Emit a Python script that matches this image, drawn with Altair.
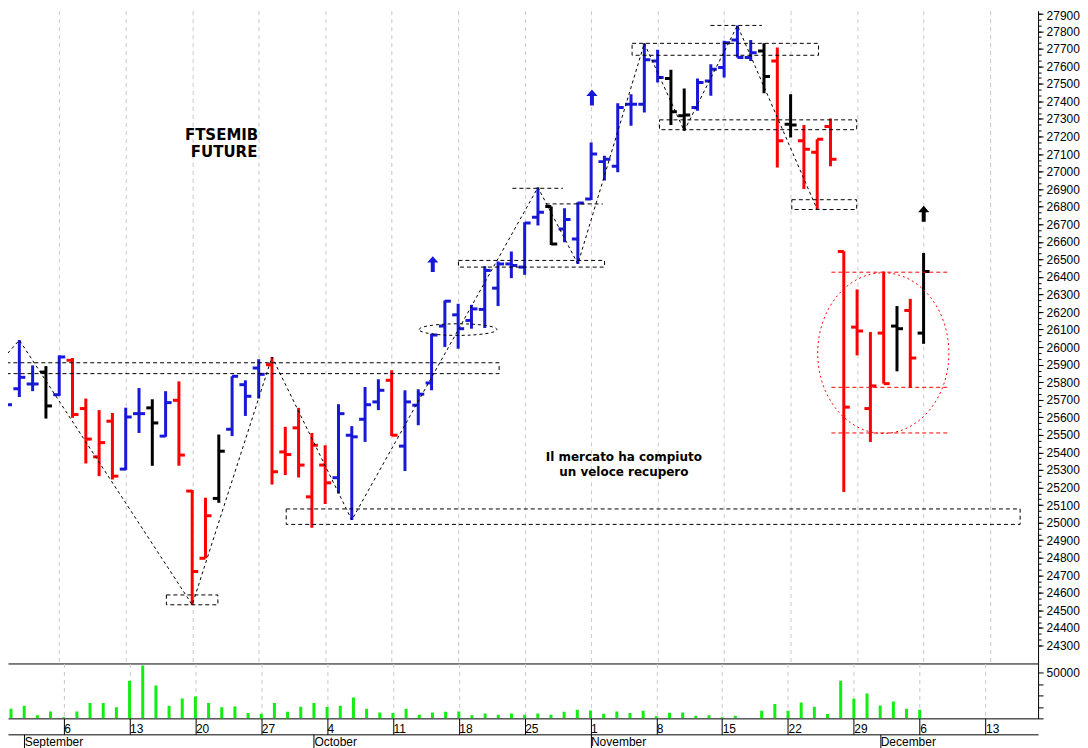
import altair as alt
import pandas as pd

# ---------------- data ----------------
dates = pd.bdate_range("2021-08-31", "2021-12-06").strftime("%Y-%m-%d").tolist()

opens = [25707, 25763, 25790, 25858, 25729, 25925, 25650, 25375, 25578, 25305,
         25621, 25654, 25493, 25697, 25180, 24797, 25138, 25532, 25786, 25881,
         25900, 25403, 25540, 25147, 25328, 25256, 25498, 25589, 25688, 25811,
         25436, 25669, 25796, 26120, 26184, 26152, 26215, 26336, 26474, 26456,
         26740, 26802, 26673, 26616, 26844, 27057, 27030, 27384, 27384, 27631,
         27530, 27318, 27365, 27517, 27593, 27750, 27650, 27688, 27631, 27270,
         27176, 27110, 27257, 26545, 26114, 25650, 26080, 26120, 26209, 26080]
highs = [25840, 26040, 25896, 25892, 25953, 25938, 25707, 25641, 25625, 25655,
         25767, 25703, 25749, 25805, 25186, 25142, 25502, 25834, 25811, 25931,
         25944, 25546, 25654, 25511, 25441, 25675, 25550, 25773, 25817, 25868,
         25754, 25760, 26076, 26266, 26247, 26241, 26461, 26488, 26545, 26711,
         26910, 26802, 26791, 26825, 27166, 27091, 27390, 27441, 27731, 27694,
         27580, 27473, 27530, 27612, 27745, 27833, 27750, 27731, 27707, 27441,
         27265, 27185, 27303, 26546, 26329, 26086, 26431, 26234, 26275, 26537]
lows = [25521, 25716, 25749, 25593, 25722, 25597, 25337, 25265, 25246, 25299,
        25511, 25324, 25489, 25324, 24532, 24797, 25113, 25493, 25608, 25707,
        25217, 25271, 25257, 24971, 25106, 25166, 25015, 25460, 25641, 25494,
        25294, 25555, 25754, 26001, 25991, 26105, 26109, 26234, 26393, 26412,
        26693, 26582, 26598, 26474, 26839, 26949, 26996, 27261, 27337, 27508,
        27265, 27233, 27347, 27432, 27536, 27650, 27631, 27447, 27024, 27195,
        26901, 26784, 27030, 25175, 25953, 25460, 25792, 25862, 25767, 26019]
closes = [25672, 25828, 25790, 25665, 25944, 25616, 25476, 25456, 25265, 25602,
          25621, 25568, 25684, 25385, 24721, 25039, 25407, 25834, 25720, 25845,
          25290, 25388, 25328, 25441, 25227, 25621, 25489, 25672, 25754, 25498,
          25688, 25732, 26069, 26262, 26105, 26218, 26437, 26474, 26465, 26707,
          26768, 26588, 26727, 26821, 27100, 27071, 27365, 27384, 27638, 27536,
          27341, 27322, 27508, 27583, 27735, 27650, 27678, 27542, 27176, 27265,
          27128, 27185, 27071, 25658, 26092, 25779, 25792, 26105, 25938, 26431]
colors = ["blue", "blue", "blue", "black", "blue", "red", "red", "red", "red", "blue",
          "blue", "black", "blue", "red", "red", "red", "black", "blue", "blue", "blue",
          "red", "red", "red", "red", "red", "blue", "blue", "blue", "blue", "red",
          "blue", "blue", "blue", "blue", "blue", "blue", "blue", "blue", "blue", "blue",
          "blue", "black", "blue", "blue", "blue", "blue", "blue", "blue", "blue", "blue",
          "black", "black", "blue", "blue", "blue", "blue", "blue", "black", "red", "black",
          "red", "red", "red", "red", "red", "red", "red", "black", "red", "black"]
volumes = [10500, 13800, 3300, 7600, 1100, 7600, 16600, 16600, 12000, 41000,
           57600, 35900, 13800, 21700, 23900, 16600, 12000, 13000, 5800, 5100,
           16600, 7200, 12600, 16700, 12300, 13800, 22800, 10500, 6500, 5800,
           10500, 4000, 6500, 7200, 7600, 3300, 5400, 4000, 5400, 4000,
           5400, 4000, 7200, 9400, 8700, 5100, 7600, 5800, 8300, 2200,
           6200, 6500, 2900, 3300, 1100, 2900, 400, 8300, 15600, 8300,
           17400, 12700, 4700, 41000, 21400, 27200, 14100, 18500, 10500, 9400]

week_dates = ["2021-09-06", "2021-09-13", "2021-09-20", "2021-09-27", "2021-10-04",
              "2021-10-11", "2021-10-18", "2021-10-25", "2021-11-01", "2021-11-08",
              "2021-11-15", "2021-11-22", "2021-11-29", "2021-12-06", "2021-12-13"]
week_labels = ["6", "13", "20", "27", "4", "11", "18", "25", "1", "8", "15", "22", "29", "6", "13"]
month_dates = ["2021-09-01", "2021-10-01", "2021-11-01", "2021-12-01"]
month_labels = ["September", "October", "November", "December"]
price_ticks = list(range(24300, 27901, 100))
price_minor = [24300 + 100 * k / 3 for k in range(0, 3 * 36 + 2)]
vol_ticks = [0, 12500, 25000, 37500, 50000]

# annotation levels (trading-day units / price)
box_t0 = [0.5, 22.07, 13.06, 35.02, 48.08, 50.14, 60.09]
box_t1 = [38.08, 77.26, 16.93, 46.01, 62.10, 64.97, 64.97]
box_lo = [25849, 24990, 24532, 26456, 27663, 27239, 26784]
box_hi = [25911, 25078, 24588, 26494, 27731, 27295, 26840]
lvl_t0 = [39.08, 41.58, 53.97]
lvl_t1 = [42.88, 45.88, 57.84]
lvl_p = [26905, 26816, 27833]
red_t0 = [63.07, 63.07, 63.07]
red_t1 = [71.85, 71.85, 71.85]
red_p = [26427, 25771, 25511]
zig_t = [0.55, 2, 15, 21, 27, 41, 44, 49, 52, 56, 62]
zig_p = [25915, 26040, 24532, 25944, 25015, 26910, 26474, 27731, 27233, 27833, 26784]
arrow_t = [33.09, 45.06, 70.01]
arrow_p = [26473, 27422, 26760]
arrow_c = ["blue", "blue", "black"]
title_lines = ["FTSEMIB", "FUTURE"]
title_t = [17.21, 17.40]
title_p = [27206, 27112]
note_lines = ["Il mercato ha compiuto", "un veloce recupero"]
note_t = [47.46, 47.46]
note_p = [25375, 25286]
ell_black = [34.99, 26100]
ell_red = [66.97, 25966]

# ---------------- frames ----------------
cal = pd.bdate_range("2021-08-30", "2021-12-31")
tpos = {d.strftime("%Y-%m-%d"): i for i, d in enumerate(cal)}

bars = pd.DataFrame(dict(date=dates, open=opens, high=highs, low=lows,
                         close=closes, col=colors, vol=volumes))
bars["t"] = bars["date"].map(tpos)
week_vals = [tpos[d] for d in week_dates]
month_vals = [tpos[d] for d in month_dates]

boxes = pd.DataFrame(dict(t0=box_t0, t1=box_t1, lo=box_lo, hi=box_hi))
lvls = pd.DataFrame(dict(t0=lvl_t0, t1=lvl_t1, p=lvl_p))
reds = pd.DataFrame(dict(t0=red_t0, t1=red_t1, p=red_p))
zig = pd.DataFrame(dict(t=zig_t, p=zig_p))
arrows = pd.DataFrame(dict(t=arrow_t, p=arrow_p, col=arrow_c))
titles = pd.DataFrame(dict(t=title_t, p=title_p, txt=title_lines))
notes = pd.DataFrame(dict(t=note_t, p=note_p, txt=note_lines))
ellb = pd.DataFrame(dict(t=[ell_black[0]], p=[ell_black[1]]))
ellr = pd.DataFrame(dict(t=[ell_red[0]], p=[ell_red[1]]))
months = pd.DataFrame(dict(t=month_vals))


def chain(vals, labels):
    s = "''"
    for v, l in reversed(list(zip(vals, labels))):
        s = f"datum.value == {v} ? '{l}' : ({s})"
    return s


FONT = "Liberation Sans"
xs = alt.Scale(domain=[1.148, 78.61], nice=False, zero=False)
ys = alt.Scale(domain=[24197.6, 27917.0], nice=False, zero=False)
vs = alt.Scale(domain=[0, 59783], nice=False, zero=False)
cs = alt.Scale(domain=["blue", "red", "black"], range=["#1818d8", "#ff0000", "#000000"])
GRID = dict(grid=True, gridColor="#c8c8c8", gridDash=[4, 4], gridWidth=1)
LBL = dict(labelFont=FONT, labelFontSize=12, labelColor="black", labelOverlap=False)

x_price_axis = alt.Axis(values=week_vals, ticks=False, labels=False, domain=True,
                        domainColor="black", domainWidth=1, title=None, orient="bottom", **GRID)
y_price_axis = alt.Axis(orient="right", values=price_ticks, format="d",
                        tickSize=5, tickColor="black", domainColor="black",
                        labelPadding=3, labelFlush=5, labelFlushOffset=3,
                        grid=False, title=None, **LBL)
y_minor_axis = alt.Axis(orient="right", values=price_minor, labels=False, domain=False,
                        tickSize=3, tickColor="black", grid=False, title=None)
x_vol_axis = alt.Axis(values=week_vals, orient="bottom", ticks=True, tickSize=16,
                      tickColor="black", labelExpr=chain(week_vals, week_labels),
                      labelAlign="left", labelBaseline="alphabetic", labelPadding=-2,
                      labelOffset=0, labelFlush=False, domain=True, domainColor="black",
                      title=None, **GRID, **LBL)
month_axis = alt.Axis(values=month_vals, orient="bottom", offset=16, ticks=True, tickSize=14,
                      tickColor="black", labelExpr=chain(month_vals, month_labels),
                      labelAlign="left", labelBaseline="alphabetic", labelPadding=-3,
                      labelOffset=0, labelFlush=False, domain=True, domainColor="black",
                      grid=False, title=None, **LBL)
y_vol_axis = alt.Axis(orient="right", values=vol_ticks,
                      labelExpr="datum.value == 50000 ? '50000' : ''", tickSize=5,
                      tickColor="black", domainColor="black", labelPadding=3, grid=False,
                      title=None, **LBL)

W = 1032
base = alt.Chart(bars)

hl = base.mark_rule(strokeWidth=3, clip=True).encode(
    x=alt.X("t:Q", scale=xs, axis=x_price_axis),
    y=alt.Y("low:Q", scale=ys, axis=y_price_axis),
    y2="high:Q",
    color=alt.Color("col:N", scale=cs, legend=None),
)
op = base.mark_rule(strokeWidth=3, x2Offset=-6, clip=True).encode(
    x=alt.X("t:Q", scale=xs, axis=None), x2="t:Q",
    y=alt.Y("open:Q", scale=ys, axis=y_minor_axis),
    color=alt.Color("col:N", scale=cs, legend=None),
)
cl = base.mark_rule(strokeWidth=3, x2Offset=6, clip=True).encode(
    x=alt.X("t:Q", scale=xs, axis=None), x2="t:Q",
    y=alt.Y("close:Q", scale=ys, axis=None),
    color=alt.Color("col:N", scale=cs, legend=None),
)
zz = alt.Chart(zig).mark_line(color="black", strokeWidth=1, strokeDash=[3, 3], clip=True).encode(
    x=alt.X("t:Q", scale=xs, axis=None), y=alt.Y("p:Q", scale=ys, axis=None), order="t:Q")
bx = alt.Chart(boxes).mark_rect(fillOpacity=0, stroke="black", strokeWidth=1,
                                strokeDash=[4, 3], clip=True).encode(
    x=alt.X("t0:Q", scale=xs, axis=None), x2="t1:Q",
    y=alt.Y("lo:Q", scale=ys, axis=None), y2="hi:Q")
lv = alt.Chart(lvls).mark_rule(color="black", strokeWidth=1, strokeDash=[4, 3], clip=True).encode(
    x=alt.X("t0:Q", scale=xs, axis=None), x2="t1:Q", y=alt.Y("p:Q", scale=ys, axis=None))
rl = alt.Chart(reds).mark_rule(color="#ff0000", strokeWidth=1, strokeDash=[4, 3], clip=True).encode(
    x=alt.X("t0:Q", scale=xs, axis=None), x2="t1:Q", y=alt.Y("p:Q", scale=ys, axis=None))

ELL_B = "M-1,0 A1,0.149 0 1,1 1,0 A1,0.149 0 1,1 -1,0 Z"
ELL_R = "M-1,0 A1,1.225 0 1,1 1,0 A1,1.225 0 1,1 -1,0 Z"
eb = alt.Chart(ellb).mark_point(shape=ELL_B, size=6084, filled=False, color="black",
                                strokeWidth=1, strokeDash=[3, 3], opacity=1, clip=True).encode(
    x=alt.X("t:Q", scale=xs, axis=None), y=alt.Y("p:Q", scale=ys, axis=None))
er = alt.Chart(ellr).mark_point(shape=ELL_R, size=17266, filled=False, color="#ff0000",
                                strokeWidth=1, strokeDash=[2, 3], opacity=1, clip=True).encode(
    x=alt.X("t:Q", scale=xs, axis=None), y=alt.Y("p:Q", scale=ys, axis=None))

ARROW = "M0,-1 L0.7,-0.2 L0.25,-0.2 L0.25,1 L-0.25,1 L-0.25,-0.2 L-0.7,-0.2 Z"
ar = alt.Chart(arrows).mark_point(shape=ARROW, size=256, filled=True, opacity=1,
                                  strokeWidth=0, clip=True).encode(
    x=alt.X("t:Q", scale=xs, axis=None), y=alt.Y("p:Q", scale=ys, axis=None),
    color=alt.Color("col:N", scale=cs, legend=None))

tt = alt.Chart(titles).mark_text(font="DejaVu Sans", fontWeight="bold", fontSize=15,
                                 color="black").encode(
    x=alt.X("t:Q", scale=xs, axis=None), y=alt.Y("p:Q", scale=ys, axis=None), text="txt:N")
nt = alt.Chart(notes).mark_text(font="DejaVu Sans", fontWeight="bold", fontSize=12,
                                color="black").encode(
    x=alt.X("t:Q", scale=xs, axis=None), y=alt.Y("p:Q", scale=ys, axis=None), text="txt:N")

price = alt.layer(hl, op, cl, zz, bx, lv, rl, eb, er, ar, tt, nt).resolve_axis(
    x="independent", y="independent").properties(width=W, height=654)

vb = base.mark_bar(size=3, color="#11ee11", clip=True).encode(
    x=alt.X("t:Q", scale=xs, axis=x_vol_axis),
    y=alt.Y("vol:Q", scale=vs, axis=y_vol_axis),
)
mo = alt.Chart(months).mark_point(opacity=0).encode(
    x=alt.X("t:Q", scale=xs, axis=month_axis))
volume = alt.layer(vb, mo).resolve_axis(x="independent").properties(width=W, height=55)

chart = alt.vconcat(price, volume, spacing=0).properties(
    padding={"left": 0, "top": 0, "right": 0, "bottom": 0}
).configure_view(stroke=None)

chart.save("out.html", embed_options={"renderer": "svg", "actions": False})
